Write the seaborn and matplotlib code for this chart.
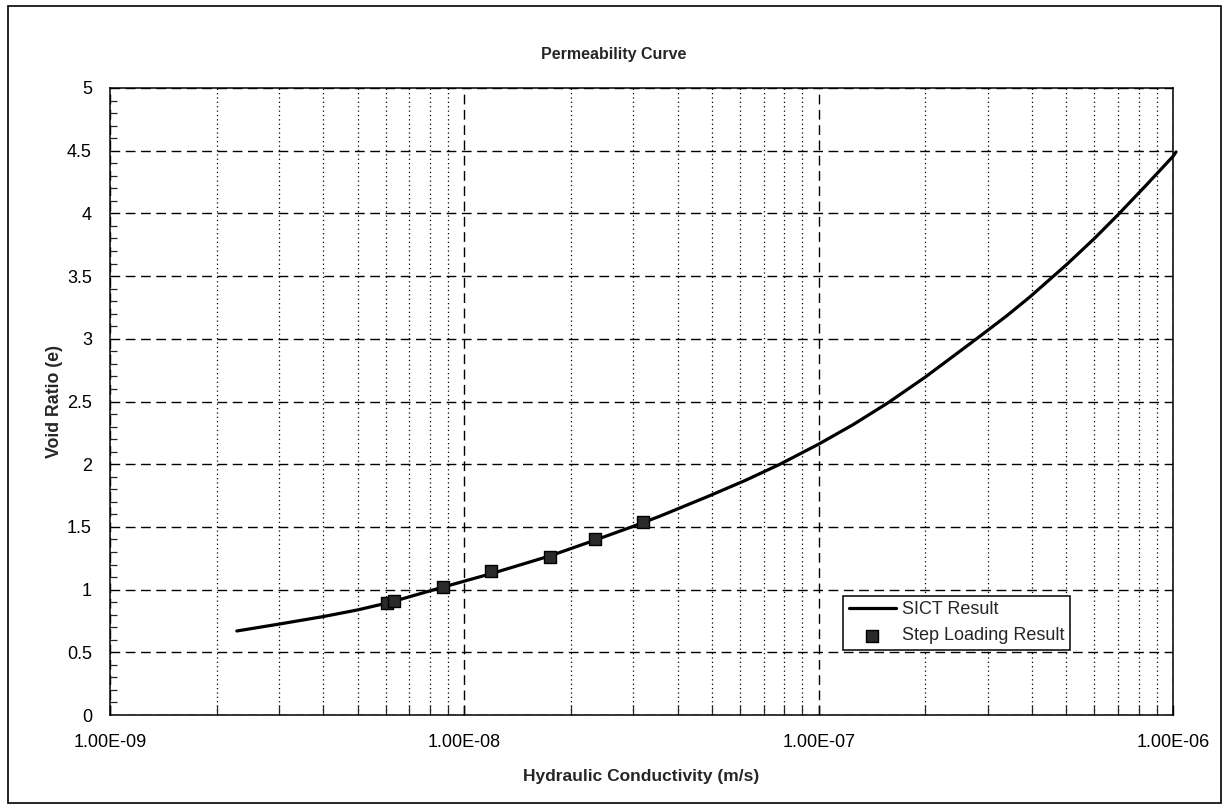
import numpy as np
import pandas as pd
import seaborn as sns
import matplotlib.pyplot as plt
from matplotlib.ticker import FixedLocator, FuncFormatter, MultipleLocator, NullFormatter
from matplotlib.patches import Rectangle

# SICT curve
curve_k = [2.28e-9, 3.0e-9, 4.0e-9, 5.0e-9, 6.2e-9, 8.71e-9, 1.2e-8, 1.75e-8,
           2.34e-8, 3.0e-8, 3.56e-8, 4.89e-8, 6.2e-8, 7.78e-8, 1.0e-7, 1.25e-7,
           1.57e-7, 2.0e-7, 2.79e-7, 3.4e-7, 3.95e-7, 5.0e-7, 6.0e-7, 7.0e-7,
           8.4e-7, 1.0e-6, 1.02e-6]
curve_e = [0.67, 0.725, 0.785, 0.838, 0.90, 1.02, 1.13, 1.27,
           1.395, 1.505, 1.585, 1.745, 1.87, 2.0, 2.16, 2.315,
           2.49, 2.695, 3.0, 3.185, 3.335, 3.59, 3.8, 3.99,
           4.225, 4.455, 4.49]

# step loading points
step_k = [6.05e-9, 6.35e-9, 8.71e-9, 1.19e-8, 1.75e-8, 2.34e-8, 3.19e-8]
step_e = [0.89, 0.91, 1.02, 1.15, 1.26, 1.40, 1.54]

x_ticks = [1e-9, 1e-8, 1e-7, 1e-6]

curve_df = pd.DataFrame({"k": curve_k, "e": curve_e})
step_df = pd.DataFrame({"k": step_k, "e": step_e})

sns.set_theme(style="white")
plt.rcParams['font.family'] = ['Liberation Sans', 'DejaVu Sans']

fig = plt.figure(figsize=(12.27, 8.09), dpi=100)
ax = fig.add_axes([110 / 1227, 1 - 715 / 809, (1173 - 110) / 1227, (715 - 88) / 809])

ax.set_xscale("log")
ax.set_xlim(1e-9, 1e-6)
ax.set_ylim(0, 5)

# grid: dashed majors, dotted minor verticals
ax.yaxis.set_major_locator(MultipleLocator(0.5))
ax.yaxis.set_minor_locator(MultipleLocator(0.1))
ax.yaxis.set_major_formatter(FuncFormatter(lambda v, p: f"{v:g}"))
ax.xaxis.set_major_locator(FixedLocator(x_ticks))
minor = [m * d for d in x_ticks[:-1] for m in range(2, 10)]
ax.xaxis.set_minor_locator(FixedLocator(minor))
ax.xaxis.set_minor_formatter(NullFormatter())
ax.xaxis.set_major_formatter(FuncFormatter(lambda v, p: f"{v:.2E}"))
ax.grid(which="major", axis="both", color="black", linestyle=(0, (7, 4)), linewidth=1.0)
ax.grid(which="minor", axis="x", color="black", linestyle=(0, (1, 2.5)), linewidth=0.9)

sns.lineplot(data=curve_df, x="k", y="e", ax=ax, color="black", linewidth=2.3,
             sort=False, estimator=None, label="SICT Result", zorder=4)
sns.scatterplot(data=step_df, x="k", y="e", ax=ax, marker="s", s=64,
                color="#2a2a2a", edgecolor="black", linewidth=1.0,
                label="Step Loading Result", zorder=5)
for ln in ax.lines:
    ln.set_clip_on(False)

for sp in ax.spines.values():
    sp.set_color("black")
    sp.set_linewidth(1.1)

ax.tick_params(axis="y", which="major", direction="inout", length=10, width=1,
               labelsize=13, pad=8, colors="black")
ax.tick_params(axis="y", which="minor", direction="in", length=5, width=0.9, left=True)
ax.tick_params(axis="x", which="major", direction="in", length=7, width=1,
               labelsize=13, pad=14, colors="black", bottom=True)
ax.tick_params(axis="x", which="minor", direction="in", length=7, width=0.9, bottom=True)

ax.set_xlabel("Hydraulic Conductivity (m/s)", fontsize=12.5, fontweight="bold", labelpad=13)
ax.set_ylabel("Void Ratio (e)", fontsize=12.8, fontweight="bold")
ax.yaxis.set_label_coords((63 - 110) / 1063, 0.5)
fig.text(0.5, 1 - 54 / 809, "Permeability Curve", fontsize=11.5, fontweight="bold",
         ha="center", va="center")

leg = ax.legend(loc="upper left", bbox_to_anchor=(0.690, 0.190), fontsize=13,
                frameon=True, fancybox=False, edgecolor="black", framealpha=1,
                borderpad=0.3, handlelength=2.6, handletextpad=0.35, labelspacing=0.5,
                borderaxespad=0)
leg.get_frame().set_linewidth(1.1)

# outer chart frame
fig.patches.append(Rectangle((8 / 1227, 1 - 803 / 809), (1221 - 8) / 1227, (803 - 6) / 809,
                             transform=fig.transFigure, fill=False, edgecolor="black",
                             linewidth=1.2))

fig.savefig("out.png", dpi=100)
